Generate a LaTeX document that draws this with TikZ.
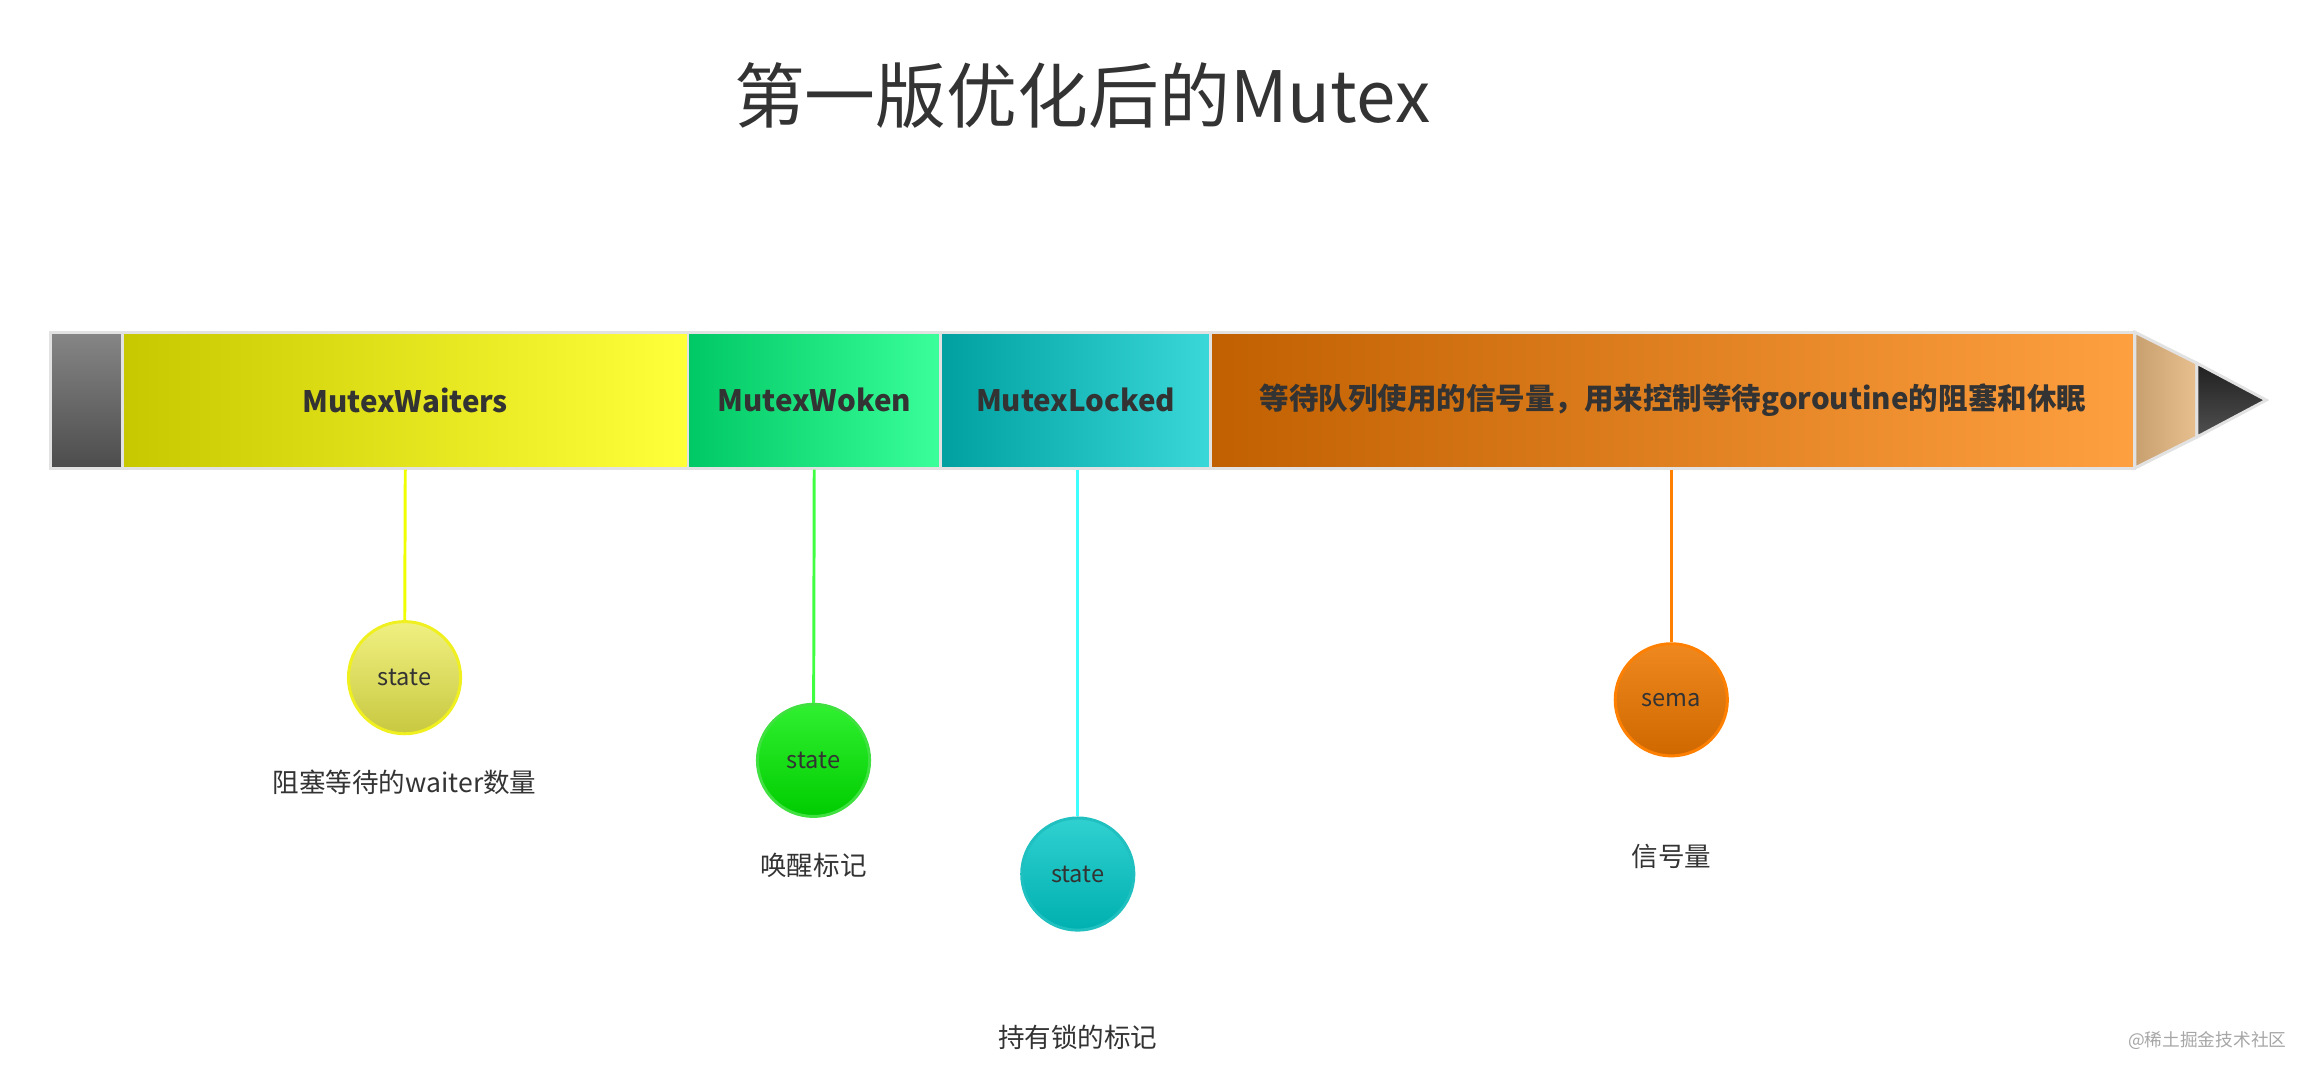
\documentclass[tikz,border=0pt]{standalone}
\usepackage{fontspec}
\setmainfont{Noto Sans CJK SC}
\usetikzlibrary{positioning}
\definecolor{barline}{HTML}{E2E2E2}
\definecolor{txt}{HTML}{333333}
\tikzset{
  seg/.style={draw=barline, line width=2pt, minimum height=92pt, inner sep=0pt,
    text=txt, font=\fontsize{20}{24}\selectfont\bfseries},
  dot/.style={circle, line width=2pt, minimum size=76pt, inner sep=0pt,
    text=txt, font=\fontsize{16}{19}\selectfont},
  note/.style={text=txt, font=\fontsize{18}{22}\selectfont},
  stem/.style={line width=2pt}
}
\begin{document}
\begin{tikzpicture}[x=1pt, y=-1pt]
  \useasboundingbox (0,0) rectangle (1568,732);
  \node[text=txt, font=\fontsize{48}{56}\selectfont] (title) at (733,65) {第一版优化后的Mutex};

  % bar segments
  \node[seg, minimum width=49pt, top color=gray!95, bottom color=black!70] (pad) at (58.5,271) {};
  \node[seg, minimum width=383pt, left color={rgb,255:red,200;green,200;blue,0}, right color={rgb,255:red,255;green,255;blue,58}] (waiters) at (274.5,271) {MutexWaiters};
  \node[seg, minimum width=171pt, left color={rgb,255:red,0;green,200;blue,100}, right color={rgb,255:red,58;green,255;blue,154}] (woken) at (551.5,271) {MutexWoken};
  \node[seg, minimum width=183pt, left color={rgb,255:red,0;green,160;blue,160}, right color={rgb,255:red,58;green,216;blue,216}] (locked) at (728.5,271) {MutexLocked};
  \node[seg, minimum width=626pt, left color={rgb,255:red,192;green,96;blue,0}, right color={rgb,255:red,255;green,160;blue,64}] (sem) at (1133,271) {等待队列使用的信号量，用来控制等待goroutine的阻塞和休眠};
  % pencil tip
  \shade[left color={rgb,255:red,200;green,160;blue,112}, right color={rgb,255:red,232;green,192;blue,144}, draw=barline, line width=2pt]
    (1446,225) -- (1488,246) -- (1488,296) -- (1446,317) -- cycle;
  \shade[top color={rgb,255:red,32;green,32;blue,32}, bottom color={rgb,255:red,80;green,80;blue,80}, draw=barline, line width=2pt]
    (1488,246) -- (1535,271) -- (1488,296) -- cycle;

  % fields
  \node[dot, draw={rgb,255:red,240;green,240;blue,32}, top color={rgb,255:red,240;green,240;blue,130}, bottom color={rgb,255:red,200;green,200;blue,64}] (waitstate) at (274,459) {state};
  \node[dot, draw={rgb,255:red,64;green,224;blue,64}, top color={rgb,255:red,48;green,240;blue,48}, bottom color={rgb,255:red,0;green,204;blue,0}] (wokenstate) at (551,515) {state};
  \node[dot, draw={rgb,255:red,32;green,192;blue,192}, top color={rgb,255:red,48;green,208;blue,208}, bottom color={rgb,255:red,0;green,176;blue,176}] (lockstate) at (730,592) {state};
  \node[dot, draw={rgb,255:red,255;green,128;blue,0}, top color={rgb,255:red,240;green,136;blue,32}, bottom color={rgb,255:red,208;green,104;blue,0}] (sema) at (1132,474) {sema};

  \node[note, below=20pt of waitstate] (waitnote) {阻塞等待的waiter数量};
  \node[note, below=20pt of wokenstate] (wokennote) {唤醒标记};
  \node[note, below=60pt of lockstate] (locknote) {持有锁的标记};
  \node[note, below=55pt of sema] (semanote) {信号量};

  \draw[stem, draw={rgb,255:red,240;green,255;blue,0}] (waiters.south) -- (waitstate);
  \draw[stem, draw={rgb,255:red,64;green,255;blue,64}] (woken.south) -- (wokenstate);
  \draw[stem, draw={rgb,255:red,64;green,255;blue,255}] (lockstate.north |- locked.south) -- (lockstate);
  \draw[stem, draw={rgb,255:red,255;green,128;blue,0}] (sema.north |- sem.south) -- (sema);

  \node[text=black!35, font=\fontsize{12}{14}\selectfont] (mark) at (1495,705) {@稀土掘金技术社区};
\end{tikzpicture}
\end{document}
